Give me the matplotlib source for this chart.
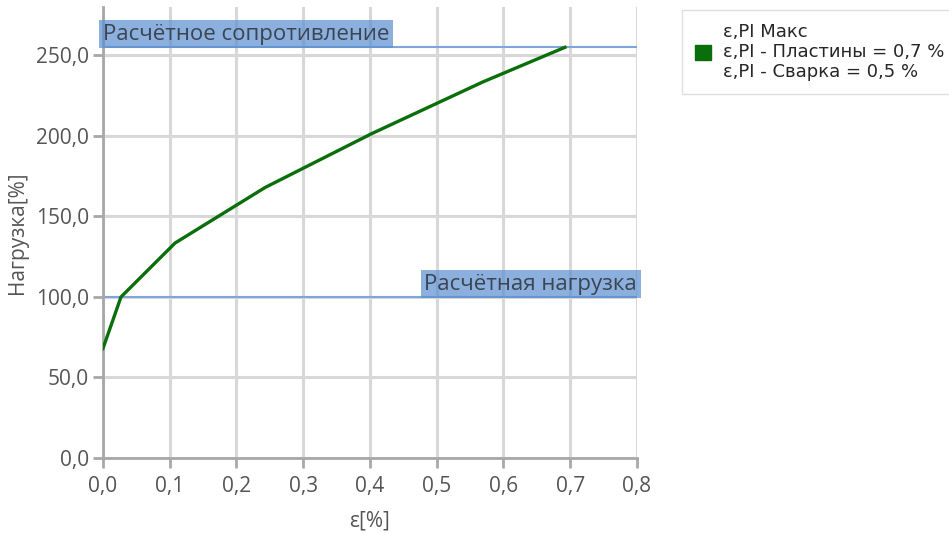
import matplotlib
matplotlib.use("Agg")
import matplotlib.pyplot as plt
from matplotlib.patches import Patch

plt.rcParams['font.family'] = ['Open Sans', 'DejaVu Sans']

# Data
strain = [0.0, 0.027, 0.108, 0.243, 0.403, 0.569, 0.692]
load = [68.0, 100.0, 133.5, 168.0, 201.5, 233.5, 255.0]
design_resistance = 255.0
design_load = 100.0
x_ticks = [0.0, 0.1, 0.2, 0.3, 0.4, 0.5, 0.6, 0.7, 0.8]
y_ticks = [0, 50, 100, 150, 200, 250]
legend_label = "ε,PI Макс\nε,PI - Пластины = 0,7 %\nε,PI - Сварка = 0,5 %"

fig = plt.figure(figsize=(9.49, 5.33), dpi=100)
ax = fig.add_axes([0.1085, 0.1407, 0.5627, 0.846])

ax.set_xlim(0, 0.8)
ax.set_ylim(0, 280)
ax.set_xticks(x_ticks)
ax.set_yticks(y_ticks)
ax.set_xticklabels([f"{v:.1f}".replace('.', ',') for v in x_ticks])
ax.set_yticklabels([f"{v:.1f}".replace('.', ',') for v in y_ticks])

ax.grid(True, color='#d8d8d8', linewidth=2.2, zorder=0)
ax.set_axisbelow(True)
for s in ['top', 'right']:
    ax.spines[s].set_visible(False)
for s in ['left', 'bottom']:
    ax.spines[s].set_color('#a8a8a8')
    ax.spines[s].set_linewidth(2)
ax.tick_params(axis='both', colors='#a8a8a8', width=2, length=7,
               labelcolor='#555555', labelsize=15)
ax.tick_params(axis='x', pad=6)
ax.tick_params(axis='y', pad=3)

ax.axhline(design_resistance, color='#7ea6da', linewidth=1.5, zorder=2)
ax.axhline(design_load, color='#7ea6da', linewidth=1.5, zorder=2)

ax.plot(strain, load, color='#0a6e0a', linewidth=2.4, zorder=3)

box = dict(facecolor='#5b8fd0', alpha=0.7, edgecolor='none', pad=2.5)
ax.text(0.0, design_resistance + 1.5, "Расчётное сопротивление", ha='left', va='bottom',
        fontsize=16, color='#3c4452', bbox=box, zorder=4)
ax.text(0.8, design_load + 1.5, "Расчётная нагрузка", ha='right', va='bottom',
        fontsize=16, color='#3c4452', bbox=box, zorder=4)

ax.set_xlabel("ε[%]", fontsize=15, color='#555555', labelpad=10)
ax.set_ylabel("Нагрузка[%]", fontsize=15, color='#555555', labelpad=6)

handle = Patch(facecolor='#0a6e0a', edgecolor='#0a6e0a')
leg = fig.legend([handle], [legend_label], loc='upper left',
                 bbox_to_anchor=(0.7187, 0.981), borderaxespad=0, frameon=True,
                 prop={'family': ['DejaVu Sans'], 'size': 13},
                 handlelength=0.9, handleheight=0.9, handletextpad=0.65,
                 borderpad=0.7, fancybox=False, labelspacing=0.2)
leg.get_frame().set_edgecolor('#d8d8d8')
leg.get_frame().set_linewidth(1)
for t in leg.get_texts():
    t.set_color('#262626')
    t.set_linespacing(1.15)

fig.savefig("out.png", dpi=100)
